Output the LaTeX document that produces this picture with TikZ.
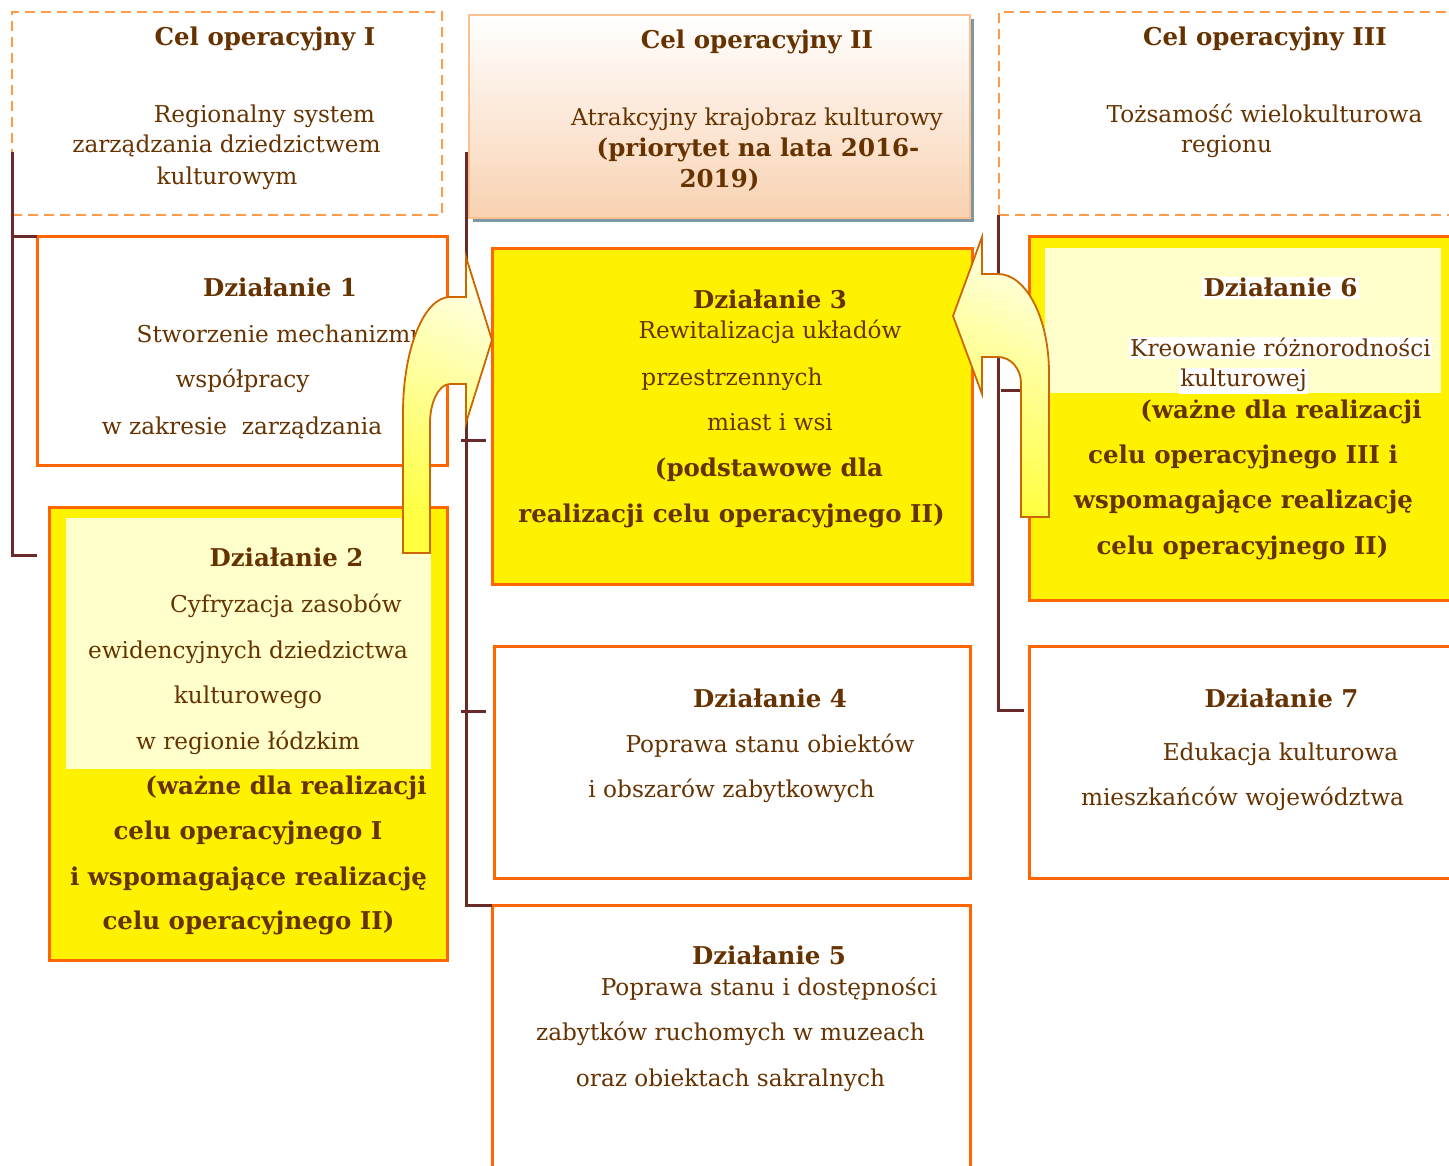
\documentclass[tikz,border=0pt]{standalone}
\usepackage{fontspec}
\setmainfont{DejaVu Serif}
\usetikzlibrary{calc}
\definecolor{txt}{HTML}{663300}
\definecolor{org}{HTML}{FF6600}
\definecolor{dorg}{HTML}{FF9A4A}
\definecolor{connc}{HTML}{6B2A2A}
\definecolor{lyel}{HTML}{FFFFCC}
\definecolor{ayel}{HTML}{FFFF40}
\definecolor{peach}{HTML}{F9D2B2}
\definecolor{peachline}{HTML}{FBC08F}
\definecolor{arrowline}{HTML}{CC6600}
\definecolor{shadowc}{HTML}{7E97A3}
\begin{document}
\begin{tikzpicture}[x=1pt,y=-1pt,
  box/.style={draw=org, line width=3pt, rectangle, inner sep=0, outer sep=0},
  goal/.style={draw=dorg, dash pattern=on 10pt off 6pt, line width=2.8pt, rectangle, inner sep=0, outer sep=0},
  plain/.style={rectangle, inner sep=0, outer sep=0},
  connline/.style={draw=connc, line width=3pt},
  t/.style={anchor=base, text=txt, font=\fontsize{23.2}{27}\selectfont, inner sep=0},
  tb/.style={anchor=base, text=txt, font=\fontsize{24.5}{28}\selectfont\bfseries, inner sep=0},
  hl/.style={fill=white, inner sep=1.5pt},
  bentarrow/.style={draw=arrowline, line width=1.8pt, top color=lyel!60!white, bottom color=ayel, shading angle=-25}
]
\clip (0,0) rectangle (1449,1166);
\useasboundingbox (0,0) rectangle (1449,1166);

% ---- goal boxes
\node[goal, minimum width=430, minimum height=203] (cel1) at (227,113.5) {};
\fill[shadowc] (473,19) rectangle (974,222);
\node[plain, draw=peachline, line width=2pt, top color=white, bottom color=peach, minimum width=501, minimum height=203] (cel2) at (719.5,116.5) {};
\node[goal, minimum width=466, minimum height=203] (cel3) at (1232,113.5) {};

% ---- connector points
\coordinate (L) at (12,152);
\coordinate (Lb) at (37,555);
\coordinate (C) at (466,152);
\coordinate (Ct1a) at (461,440); \coordinate (Ct1b) at (486,440);
\coordinate (Ct2a) at (461,711); \coordinate (Ct2b) at (486,711);
\coordinate (R) at (998,215);
\coordinate (Rb) at (1024,710);
\coordinate (Rta) at (1001,390); \coordinate (Rtb) at (1021,390);

% ---- action boxes
\node[box, fill=white, minimum width=410, minimum height=228] (d1) at (242,351) {};
\node[box, fill=yellow, minimum width=398, minimum height=453] (d2) at (248,733.5) {};
\node[plain, fill=lyel, minimum width=365, minimum height=251] (d2in) at (248.5,643.5) {};
\node[box, fill=yellow, minimum width=480, minimum height=335] (d3) at (732,416.5) {};
\node[box, fill=white, minimum width=476, minimum height=232] (d4) at (732,762) {};
\node[box, fill=white, minimum width=478, minimum height=280] (d5) at (731,1045) {};
\node[box, fill=yellow, minimum width=436, minimum height=363] (d6) at (1247,418.5) {};
\node[plain, fill=lyel, minimum width=396, minimum height=145] (d6in) at (1243,320.5) {};
\node[box, fill=white, minimum width=436, minimum height=232] (d7) at (1247,762) {};

\draw[connline] (L) |- (d1.north west);
\draw[connline] (L) |- (Lb);
\draw[connline] (C) |- (d5.north west);
\draw[connline] (Ct1a) -- (Ct1b);
\draw[connline] (Ct2a) -- (Ct2b);
\draw[connline] (R) |- (Rb);
\draw[connline] (Rta) -- (Rtb);

% ---- texts: goals
\node[tb] (c1a) at (265,46) {Cel operacyjny I};
\node[t] (c1b) at (264.5,123) {Regionalny system};
\node[t] (c1c) at (226.5,153) {zarządzania dziedzictwem};
\node[t] (c1d) at (227,185) {kulturowym};

\node[tb] (c2a) at (757,49) {Cel operacyjny II};
\node[t] (c2b) at (757,126) {Atrakcyjny krajobraz kulturowy};
\node[tb] (c2c) at (758,157) {(priorytet na lata 2016-};
\node[tb] (c2d) at (719.5,188) {2019)};

\node[tb] (c3a) at (1265,46) {Cel operacyjny III};
\node[t] (c3b) at (1264.5,123) {Tożsamość wielokulturowa};
\node[t] (c3c) at (1226.5,153) {regionu};

% ---- texts: actions
\node[tb] (d1a) at (280,297) {Działanie 1};
\node[t] (d1b) at (281,343) {Stworzenie mechanizmu};
\node[t] (d1c) at (242.5,388) {współpracy};
\node[t] (d1d) at (242,434) {w zakresie\ \ zarządzania};

\node[tb] (d2a) at (286.5,566) {Działanie 2};
\node[t] (d2b) at (286,612) {Cyfryzacja zasobów};
\node[t] (d2c) at (248,658) {ewidencyjnych dziedzictwa};
\node[t] (d2d) at (248,703) {kulturowego};
\node[t] (d2e) at (248,749) {w regionie łódzkim};
\node[tb] (d2f) at (286,794) {(ważne dla realizacji};
\node[tb] (d2g) at (248,839) {celu operacyjnego I};
\node[tb] (d2h) at (248.5,885) {i wspomagające realizację};
\node[tb] (d2i) at (248.5,929) {celu operacyjnego II)};

\node[tb] (d3a) at (770,309) {Działanie 3};
\node[t] (d3b) at (770,339) {Rewitalizacja układów};
\node[t] (d3c) at (732,385) {przestrzennych};
\node[t] (d3d) at (770,430) {miast i wsi};
\node[tb] (d3e) at (769,476) {(podstawowe dla};
\node[tb] (d3f) at (731.5,522) {realizacji celu operacyjnego II)};

\node[tb] (d4a) at (770,707) {Działanie 4};
\node[t] (d4b) at (770,752) {Poprawa stanu obiektów};
\node[t] (d4c) at (731.5,797) {i obszarów zabytkowych};

\node[tb] (d5a) at (769,964) {Działanie 5};
\node[t] (d5b) at (769,995) {Poprawa stanu i dostępności};
\node[t] (d5c) at (730.5,1040) {zabytków ruchomych w muzeach};
\node[t] (d5d) at (730.5,1086) {oraz obiektach sakralnych};

\node[tb, hl] (d6a) at (1280.5,297) {Działanie 6};
\node[t, hl] (d6b) at (1280.5,357) {Kreowanie różnorodności};
\node[t, hl] (d6c) at (1243.5,387) {kulturowej};
\node[tb] (d6d) at (1281,418) {(ważne dla realizacji};
\node[tb] (d6e) at (1243,463) {celu operacyjnego III i};
\node[tb] (d6f) at (1243.5,508) {wspomagające realizację};
\node[tb] (d6g) at (1242.5,554) {celu operacyjnego II)};

\node[tb] (d7a) at (1281.5,707) {Działanie 7};
\node[t] (d7b) at (1280.5,760) {Edukacja kulturowa};
\node[t] (d7c) at (1242.5,805) {mieszkańców województwa};

% ---- bent arrows
\path[bentarrow] (403,553) -- (403,413)
  .. controls (403,349) and (424,297) .. (450,297)
  -- (466,297) -- (466,257) -- (492,340) -- (466,423) -- (466,384) -- (450,384)
  .. controls (439,384) and (430,402) .. (430,423)
  -- (430,553) -- cycle;
\path[bentarrow] (1049,517) -- (1049,373)
  .. controls (1049,318) and (1026,274) .. (998,274)
  -- (982,274) -- (982,237) -- (953,316) -- (982,394) -- (982,357) -- (998,357)
  .. controls (1011,357) and (1021,369) .. (1021,383)
  -- (1021,517) -- cycle;
\end{tikzpicture}
\end{document}
